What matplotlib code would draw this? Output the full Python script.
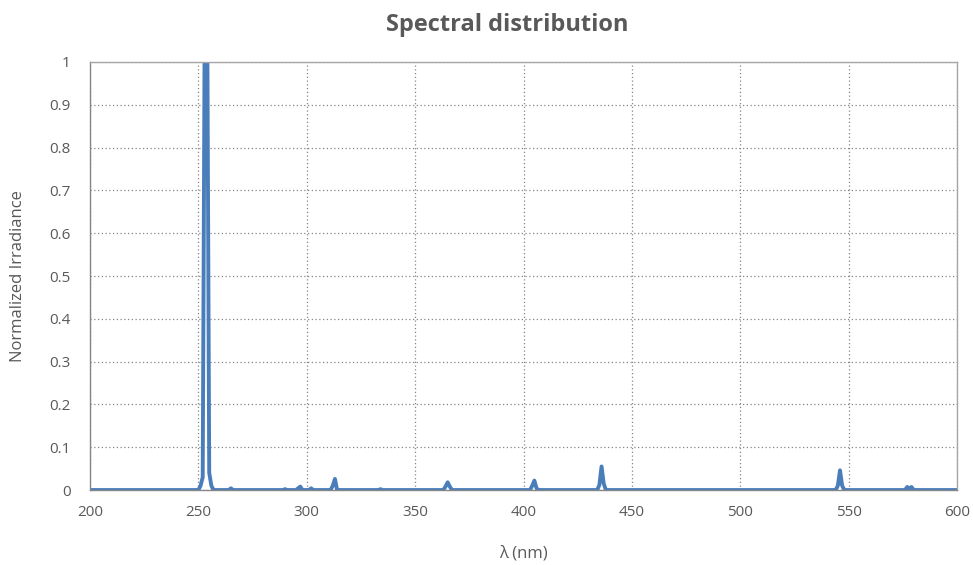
import numpy as np
import matplotlib.pyplot as plt

plt.rcParams['font.family'] = ['Open Sans', 'DejaVu Sans']

# wavelength (nm) and normalized irradiance
wl = [200, 250, 251, 252, 253, 254, 255, 256, 257,
      264, 265, 266, 289, 290, 291, 295, 296, 297, 298,
      301, 302, 303, 311, 312, 313, 314, 333, 334, 335,
      363, 364, 365, 366, 367, 403, 404, 405, 406, 407,
      434, 435, 436, 437, 438, 544, 545, 546, 547, 548,
      576, 577, 578, 579, 580, 600]
irr = [0, 0, 0.01, 0.03, 1.2, 1.2, 0.04, 0.01, 0,
       0, 0.004, 0, 0, 0.002, 0, 0, 0.004, 0.008, 0,
       0, 0.004, 0, 0, 0.01, 0.026, 0, 0, 0.002, 0,
       0, 0.008, 0.018, 0.008, 0, 0, 0.01, 0.022, 0.004, 0,
       0, 0.012, 0.055, 0.015, 0, 0, 0.01, 0.046, 0.01, 0,
       0, 0.007, 0.004, 0.007, 0, 0]

xticks = [200, 250, 300, 350, 400, 450, 500, 550, 600]
yticks = [0, 0.1, 0.2, 0.3, 0.4, 0.5, 0.6, 0.7, 0.8, 0.9, 1]
ylabels = ['0', '0.1', '0.2', '0.3', '0.4', '0.5', '0.6', '0.7', '0.8', '0.9', '1']

txt = '#595959'
fig = plt.figure(figsize=(9.73, 5.65), dpi=100)
ax = fig.add_axes([0.0925, 0.1327, 0.8911, 0.7576])

ax.plot(wl, irr, color='#4a7ebb', lw=2.8, solid_joinstyle='round')

ax.set_xlim(200, 600)
ax.set_ylim(0, 1)
ax.set_xticks(xticks)
ax.set_yticks(yticks)
ax.set_yticklabels(ylabels)
ax.grid(True, linestyle=(0, (1, 2)), color='#868686', lw=0.9)
ax.tick_params(length=0, labelsize=11, labelcolor=txt)
ax.tick_params(axis='x', pad=11)
ax.tick_params(axis='y', pad=14)

for s in ['top', 'right']:
    ax.spines[s].set_color('#a6a6a6')
    ax.spines[s].set_linewidth(1)
for s in ['left', 'bottom']:
    ax.spines[s].set_color('#868686')
    ax.spines[s].set_linestyle((0, (1, 1)))
    ax.spines[s].set_linewidth(1)

fig.text(0.521, 0.955, 'Spectral distribution', fontsize=17, fontweight='bold',
         color=txt, ha='center', va='center')
ax.set_xlabel('λ (nm)', fontsize=12, color=txt, labelpad=18)
ax.set_ylabel('Normalized Irradiance', fontsize=12, color=txt, labelpad=17)

fig.savefig('out.png', dpi=100)
